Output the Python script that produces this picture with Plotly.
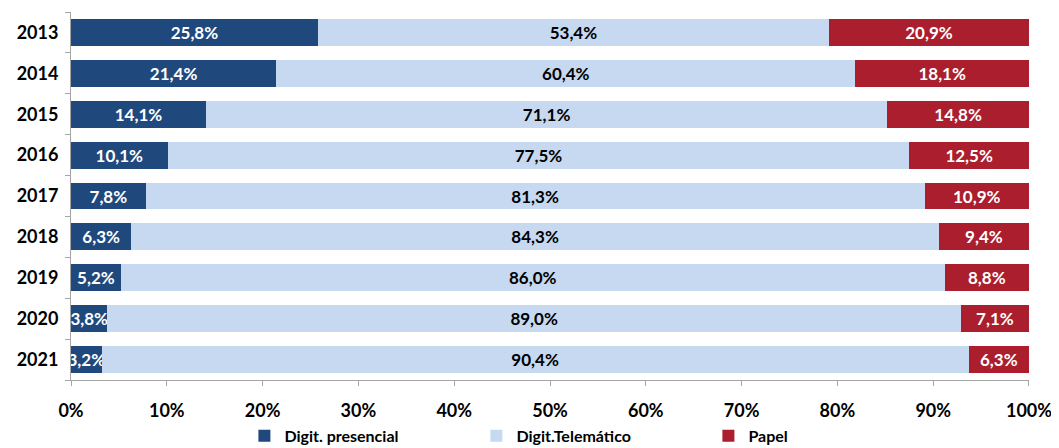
import plotly.graph_objects as go

years = ["2013", "2014", "2015", "2016", "2017", "2018", "2019", "2020", "2021"]
presencial = [25.8, 21.4, 14.1, 10.1, 7.8, 6.3, 5.2, 3.8, 3.2]
telematico = [53.4, 60.4, 71.1, 77.5, 81.3, 84.3, 86.0, 89.0, 90.4]
papel = [20.9, 18.1, 14.8, 12.5, 10.9, 9.4, 8.8, 7.1, 6.3]

series = [
    ("Digit. presencial", presencial, "#1F497D", "white"),
    ("Digit.Telemático", telematico, "#C6D9F1", "black"),
    ("Papel", papel, "#AA1E2D", "white"),
]

FONT = "Lato"

def fmt(v):
    return f"{v:.1f}".replace(".", ",") + "%"

fig = go.Figure()
for name, vals, color, tcol in series:
    fig.add_trace(go.Bar(
        y=years, x=vals, name=name, orientation="h",
        marker=dict(color=color, line=dict(width=0)),
        text=[fmt(v) for v in vals],
        textposition="inside", insidetextanchor="middle",
        constraintext="none", cliponaxis=False,
        textfont=dict(family=FONT, size=17, color=tcol, weight="bold"),
        hoverinfo="skip",
    ))

# page body has an 8px default margin, so the figure is sized to sit inside the window
fig.update_layout(
    barmode="stack", barnorm="percent", bargap=0.34,
    width=1051, height=440,
    margin=dict(l=63, r=30, t=4, b=68, autoexpand=False),
    paper_bgcolor="white", plot_bgcolor="white",
    font=dict(family=FONT, size=18, color="black", weight="bold"),
    legend=dict(
        orientation="h", x=0.181, xanchor="left", y=-0.152, yanchor="middle",
        entrywidth=187, font=dict(family=FONT, size=16, color="black", weight="bold"),
        traceorder="normal",
    ),
    xaxis=dict(
        range=[0, 100.001], tickvals=list(range(0, 101, 10)),
        ticktext=[f"{v}%" for v in range(0, 101, 10)],
        showgrid=False, zeroline=False, showline=True, linecolor="#A6A6A6",
        ticks="outside", ticklen=5, tickcolor="#A6A6A6",
        tickfont=dict(family=FONT, size=18, color="black", weight="bold"),
        ticklabelstandoff=9, automargin=False,
        fixedrange=True,
    ),
    yaxis=dict(
        categoryorder="array", categoryarray=years[::-1],
        showgrid=False, showline=True, linecolor="#A6A6A6",
        ticks="outside", ticklen=5, tickcolor="#A6A6A6", tickson="boundaries",
        tickfont=dict(family=FONT, size=18, color="black", weight="bold"),
        ticklabelstandoff=8, automargin=False,
        fixedrange=True,
    ),
)

fig.write_html("out.html")
